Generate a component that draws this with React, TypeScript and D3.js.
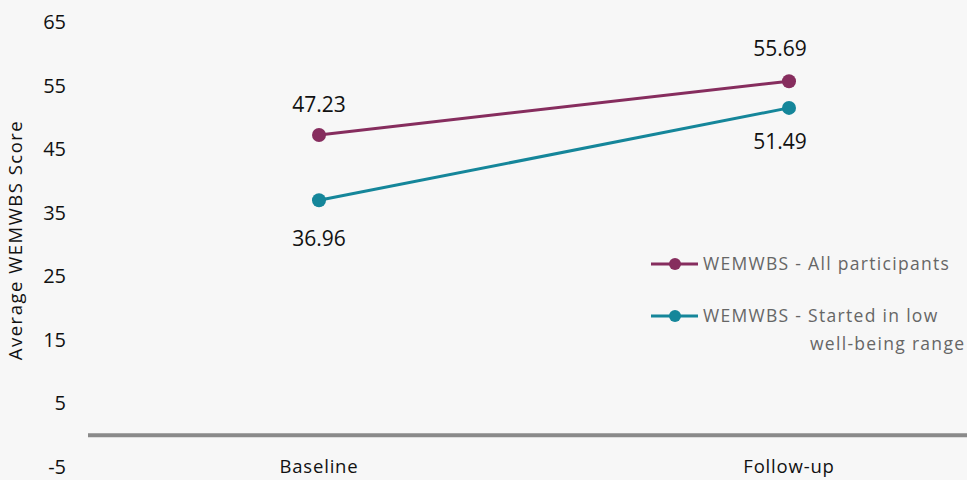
import React from "react";
import * as d3 from "d3";

const categories = ["Baseline", "Follow-up"];
const allParticipants = [47.23, 55.69];
const lowWellbeing = [36.96, 51.49];
const yTicks = [-5, 5, 15, 25, 35, 45, 55, 65];
const seriesNames = ["WEMWBS - All participants", "WEMWBS - Started in low well-being range"];

const W = 967;
const H = 480;
const FONT = "'Open Sans', sans-serif";
const PURPLE = "#862d5e";
const TEAL = "#15869a";

export default function App() {
  const x = d3.scalePoint<string>().domain(categories).range([319, 789]);
  const y = d3.scaleLinear().domain([-5, 65]).range([467, 22]);
  const line = d3
    .line<number>()
    .x((_, i) => x(categories[i]) as number)
    .y((d) => y(d));

  const series = [
    { name: seriesNames[0], values: allParticipants, color: PURPLE, labelDy: [-30, -33] },
    { name: seriesNames[1], values: lowWellbeing, color: TEAL, labelDy: [38, 34] },
  ];

  return (
    <svg
      width={W}
      height={H}
      style={{ position: "absolute", left: 0, top: 0, background: "#f7f7f7" }}
      fontFamily={FONT}
    >
      <rect width={W} height={H} fill="#f7f7f7" />
      {/* y tick labels */}
      {yTicks.map((t) => (
        <text key={t} x={66} y={y(t)} dy="0.35em" textAnchor="end" fontSize={20} fontWeight={500} fill="#111">
          {t}
        </text>
      ))}
      {/* y axis title */}
      <text
        transform={`translate(22,${240}) rotate(-90)`}
        textAnchor="middle"
        fontSize={18.5}
        letterSpacing={1.5}
        fill="#111"
      >
        Average WEMWBS Score
      </text>
      {/* category axis at 0 */}
      <line x1={88} x2={W} y1={y(0)} y2={y(0)} stroke="#8a8a8a" strokeWidth={4} />
      {categories.map((c) => (
        <text key={c} x={x(c)} y={467} dy="0.35em" textAnchor="middle" fontSize={18.5} letterSpacing={0.8} fill="#111">
          {c}
        </text>
      ))}
      {/* series */}
      {series.map((s) => (
        <g key={s.name}>
          <path d={line(s.values) as string} fill="none" stroke={s.color} strokeWidth={3} />
          {s.values.map((v, i) => (
            <circle key={i} cx={x(categories[i])} cy={y(v)} r={7} fill={s.color} />
          ))}
          {s.values.map((v, i) => (
            <text
              key={"l" + i}
              x={(x(categories[i]) as number) + (i === 0 ? 0 : -9)}
              y={y(v) + s.labelDy[i]}
              dy="0.35em"
              textAnchor="middle"
              fontSize={21}
              fill="#111"
            >
              {v.toFixed(2)}
            </text>
          ))}
        </g>
      ))}
      {/* legend */}
      <g>
        <line x1={651} x2={698} y1={264} y2={264} stroke={PURPLE} strokeWidth={3} />
        <circle cx={675} cy={264} r={6} fill={PURPLE} />
        <text x={703} y={264} dy="0.35em" fontSize={17.5} letterSpacing={1.3} fill="#666">
          WEMWBS - All participants
        </text>
        <line x1={651} x2={698} y1={316} y2={316} stroke={TEAL} strokeWidth={3} />
        <circle cx={675} cy={316} r={6} fill={TEAL} />
        <text x={703} y={316} dy="0.35em" fontSize={17.5} letterSpacing={1.3} fill="#666">
          WEMWBS - Started in low
        </text>
        <text x={810} y={344} dy="0.35em" fontSize={17.5} letterSpacing={1.3} fill="#666">
          well-being range
        </text>
      </g>
    </svg>
  );
}
